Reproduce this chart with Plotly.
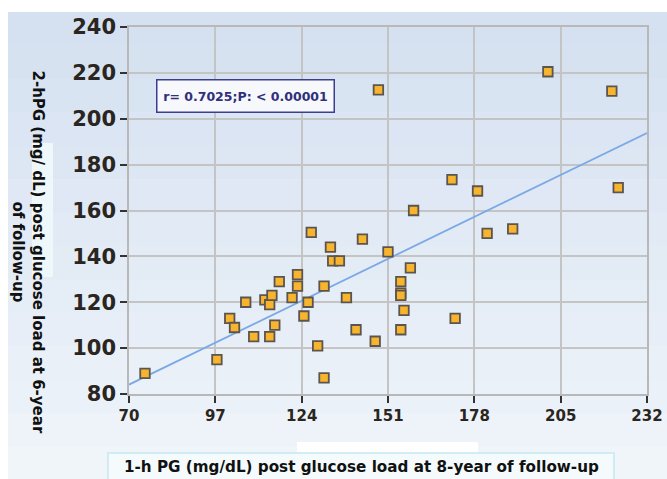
import numpy as np
import plotly.graph_objects as go

# 1-h PG at 8-year follow-up (x) and 2-h PG at 6-year follow-up (y), mg/dL
pg_1h = [75, 97.5, 101.5, 103, 106.5, 109, 112.5, 114, 114.7, 114, 115.6, 117,
         121, 122.7, 122.7, 126, 124.7, 127, 129, 131, 131,
         133, 133.7, 135.8, 143, 151, 138, 141, 147, 158, 155, 155, 155,
         156, 155, 159, 171, 179, 182, 172, 148, 201, 221, 223, 190]
pg_2h = [89, 95, 113, 109, 120, 105, 121, 119, 123, 105, 110, 129,
         122, 132, 127, 120, 114, 150.5, 101, 87, 127,
         144, 138, 138, 147.5, 142, 122, 108, 103, 135, 129, 124, 123,
         116.5, 108, 160, 173.5, 168.5, 150, 113, 212.6, 220.5, 212, 170, 152]

x_ticks = [70, 97, 124, 151, 178, 205, 232]
y_ticks = [80, 100, 120, 140, 160, 180, 200, 220, 240]
stat_label = "r= 0.7025;P: < 0.00001"
x_title = "1-h PG (mg/dL) post glucose load at 8-year of follow-up"
y_title = "2-hPG (mg/ dL) post glucose load at 6-year<br>of follow-up"

slope, intercept = np.polyfit(pg_1h, pg_2h, 1)
line_x = [x_ticks[0], x_ticks[-1]]
line_y = [intercept + slope * v for v in line_x]

fig = go.Figure()
fig.add_trace(go.Scatter(x=line_x, y=line_y, mode="lines",
                         line=dict(color="#7aa9e6", width=1.8),
                         hoverinfo="skip", showlegend=False))
fig.add_trace(go.Scatter(x=pg_1h, y=pg_2h, mode="markers",
                         marker=dict(symbol="square", size=9.5, color="#f7b42c",
                                     line=dict(color="#5a5550", width=1.8)),
                         showlegend=False))

font_family = "DejaVu Sans, Verdana, sans-serif"

# plot area in figure pixels
PL, PR, PT, PB = 129, 647, 27, 394
PW, PH = PR - PL, PB - PT


def px_x(v):
    return (v - PL) / PW


def px_y(v):
    return (PB - v) / PH


shapes = []
# background panel (vertical gradient approximated by bands)
n_bands = 14
top_c = np.array([0xd5, 0xe1, 0xf1])
bot_c = np.array([0xf0, 0xf5, 0xfa])
top_px, bot_px = 12, 480
for i in range(n_bands):
    a = top_px + (bot_px - top_px) * i / n_bands
    b = top_px + (bot_px - top_px) * (i + 1) / n_bands
    c = top_c + (bot_c - top_c) * (i / (n_bands - 1))
    shapes.append(dict(type="rect", xref="paper", yref="paper", layer="below",
                       x0=px_x(8), x1=px_x(668), y0=px_y(b + 0.5), y1=px_y(a),
                       fillcolor="rgb(%d,%d,%d)" % tuple(c.astype(int)),
                       line=dict(width=0)))
# light box behind y title
shapes.append(dict(type="rect", xref="paper", yref="paper", layer="below",
                   x0=px_x(32), x1=px_x(53), y0=px_y(277), y1=px_y(143),
                   fillcolor="#eef8fa", line=dict(width=0)))
# white patch above x title box
shapes.append(dict(type="rect", xref="paper", yref="paper", layer="below",
                   x0=px_x(297), x1=px_x(478), y0=px_y(454), y1=px_y(442),
                   fillcolor="#ffffff", line=dict(width=0)))
# x title box
shapes.append(dict(type="rect", xref="paper", yref="paper", layer="below",
                   x0=px_x(108), x1=px_x(614), y0=px_y(484), y1=px_y(453),
                   fillcolor="#f5fbfd", line=dict(color="#c3e8f2", width=1.5)))

fig.update_layout(
    width=667, height=479,
    margin=dict(l=PL, r=667 - PR, t=PT, b=479 - PB, autoexpand=False),
    paper_bgcolor="#ffffff", plot_bgcolor="#ffffff",
    shapes=shapes,
    font=dict(family=font_family, color="#222222"),
    annotations=[
        dict(text="<b>%s</b>" % stat_label, xref="paper", yref="paper",
             x=px_x(245), y=px_y(95.5), xanchor="center", yanchor="middle",
             showarrow=False, font=dict(size=12.5, color="#2f2f7c", family=font_family),
             bgcolor="#f6f8fc", bordercolor="#3d3d8e", borderwidth=1.5,
             width=174, height=29),
        dict(text="<b>%s</b>" % x_title, xref="paper", yref="paper",
             x=px_x(361), y=px_y(467), xanchor="center", yanchor="middle",
             showarrow=False, font=dict(size=15.2, color="#111111", family=font_family)),
        dict(text="<b>%s</b>" % y_title, xref="paper", yref="paper",
             x=px_x(27.5), y=px_y(252), xanchor="center", yanchor="middle",
             textangle=90, showarrow=False,
             font=dict(size=15, color="#111111", family=font_family)),
    ],
    xaxis=dict(range=[70, 232], tickvals=x_ticks, ticktext=["<b>%d</b>" % v for v in x_ticks],
               showgrid=True, gridcolor="#c4c4c4", gridwidth=1.5, automargin=False,
               showline=True, linecolor="#b8b8b8", linewidth=1.5, mirror=True,
               ticks="outside", ticklen=7, tickwidth=2, tickcolor="#333333",
               tickfont=dict(size=15, color="#2a2520", family=font_family),
               zeroline=False, fixedrange=True),
    yaxis=dict(range=[80, 240], tickvals=y_ticks, ticktext=["<b>%d</b>" % v for v in y_ticks],
               showgrid=True, gridcolor="#c4c4c4", gridwidth=1.5, automargin=False,
               showline=True, linecolor="#b8b8b8", linewidth=1.5, mirror=True,
               ticks="outside", ticklen=7, tickwidth=2, tickcolor="#333333",
               tickfont=dict(size=21, color="#2a2520", family=font_family),
               zeroline=False, fixedrange=True),
)

fig.write_html("out.html")
